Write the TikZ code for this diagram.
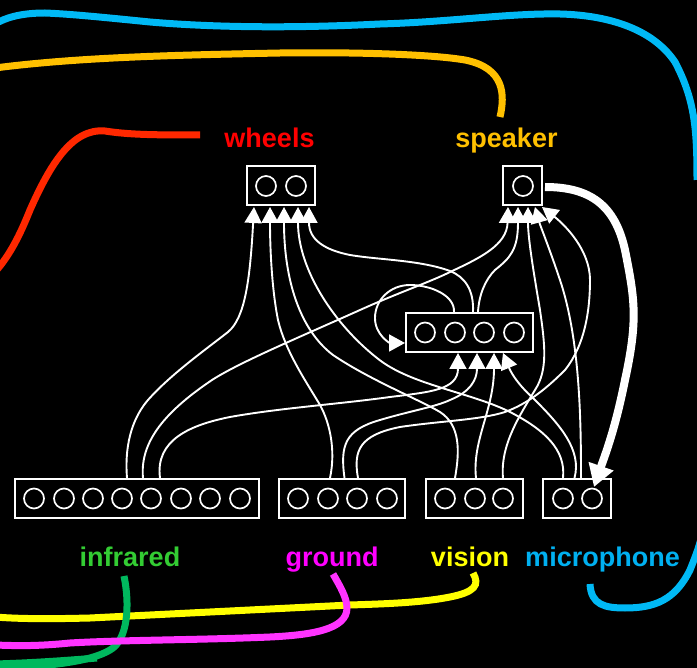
\documentclass[tikz,border=0pt]{standalone}
\usepackage{fontspec}
\setmainfont{Liberation Sans}
\usetikzlibrary{arrows.meta}
\definecolor{cblue}{RGB}{0,185,245}
\definecolor{corange}{RGB}{255,192,0}
\definecolor{cred}{RGB}{255,40,0}
\definecolor{cyellow}{RGB}{255,255,0}
\definecolor{cmagenta}{RGB}{255,51,255}
\definecolor{cgreen}{RGB}{0,184,94}
\definecolor{lred}{RGB}{255,0,0}
\definecolor{lgreen}{RGB}{51,204,51}
\definecolor{lmag}{RGB}{255,0,255}
\definecolor{lblue}{RGB}{0,176,240}
\tikzset{
  x=1pt,y=-1pt,
  box/.style={draw=white,line width=2pt,fill=black,inner sep=0pt,minimum height=39pt},
  pin/.style={circle,draw=white,line width=1.7pt,inner sep=0pt,minimum size=20pt},
  wire/.style={draw=white,line width=1.9pt},
  tipped/.style={wire,-{Triangle[length=16pt,width=17pt]}},
  sense/.style={line width=7pt,line cap=butt},
  lab/.style={anchor=base,inner sep=0pt,font=\bfseries\fontsize{27}{27}\selectfont},
}
\begin{document}
\begin{tikzpicture}
\fill[black] (0,0) rectangle (697,668);
\useasboundingbox (0,0) rectangle (697,668);
\begin{scope}
\clip (0,0) rectangle (697,668);
% long coloured leads
\draw[sense,cblue] (590,584) .. controls (591,605) and (605,608) .. (625,608) .. controls (655,608) and (675,600) .. (690,570) .. controls (696,555) and (700,545) .. (703,530);
\draw[sense,cblue] (697,180) .. controls (697,130) and (695,100) .. (675,62) .. controls (650,25) and (600,15) .. (560,14) .. controls (510,13) and (450,22) .. (380,24) .. controls (300,28) and (220,28) .. (150,22) .. controls (100,17) and (70,14) .. (45,13) .. controls (20,13) and (5,18) .. (-5,24);
\draw[sense,corange] (500,117) .. controls (505,95) and (505,68) .. (465,60) .. controls (430,54) and (350,52) .. (280,53) .. controls (180,55) and (80,57) .. (-5,68);
\draw[sense,cred] (200,135) .. controls (160,135) and (130,135) .. (105,131) .. controls (72,128) and (50,165) .. (30,210) .. controls (20,235) and (10,255) .. (-5,272);
\draw[sense,cyellow] (473,573) .. controls (480,585) and (475,592) .. (450,597) .. controls (420,603) and (380,604) .. (350,605) .. controls (250,610) and (150,615) .. (90,618) .. controls (50,619) and (20,619) .. (-5,617);
\draw[sense,cgreen] (-5,664) .. controls (30,663) and (60,661) .. (97,658);
\draw[sense,cgreen] (124,576) .. controls (130,605) and (128,640) .. (110,650) .. controls (90,662) and (50,666) .. (-5,669);
\draw[sense,cmagenta] (333,574) .. controls (340,586) and (347,598) .. (347,608) .. controls (347,630) and (310,635) .. (270,637) .. controls (200,640) and (120,640) .. (70,643) .. controls (40,646) and (20,646) .. (-5,645);
\end{scope}
% boxes
\node[box,minimum width=68pt] (wheels) at (281,186) {};
\node[box,minimum width=39pt] (speaker) at (522.5,186) {};
\node[box,minimum width=127pt] (core) at (469.5,332.5) {};
\node[box,minimum width=244pt] (infrared) at (137,498.5) {};
\node[box,minimum width=126pt] (ground) at (342,498.5) {};
\node[box,minimum width=97pt] (vision) at (474.5,498.5) {};
\node[box,minimum width=68pt] (microphone) at (577,498.5) {};
% pins
\foreach \n/\x in {wa/266,wb/296}{\node[pin] (\n) at (\x,186) {};}
\node[pin] (sa) at (523,186) {};
\foreach \n/\x in {ca/425,cb/455,cc/484,cd/514}{\node[pin] (\n) at (\x,332.5) {};}
\foreach \n/\x in {ia/34,ib/64,ic/93,id/122,ie/151,if/181,ig/210,ih/240,ga/298,gb/328,gc/357,gd/387,va/445,vb/475,vc/503,ma/563,mb/592}{\node[pin] (\n) at (\x,498.5) {};}
% wire ends
\foreach \n/\x in {iu/127,iv/143,iw/160,gu/330,gv/344.5,gw/358,vu/455,vv/476,vw/503,mu/563,mv/574.5,mw/581}{\coordinate (\n) at (\x,478);}
\foreach \n/\x in {wia/254,wib/270,wic/284,wid/298,wie/309,sia/508,sib/518,sic/528,sid/535}{\coordinate (\n) at (\x,207);}
\foreach \n/\x in {cia/458,cib/477,cic/494}{\coordinate (\n) at (\x,353);}
\coordinate (cid) at (503,353);
\coordinate (cie) at (405,343);
\coordinate (sie) at (542,207);
\coordinate (oa) at (454,312);
\coordinate (ob) at (473,312);
\coordinate (oc) at (478,312);
\coordinate (sout) at (545,187);
\coordinate (mbin) at (594,487);
% wires
\draw[tipped] (iu) .. controls (124,440) and (135,415) .. (148,400) .. controls (170,375) and (205,350) .. (228,332) .. controls (245,318) and (250,280) .. (wia);
\draw[tipped] (gu) .. controls (336,450) and (330,420) .. (317,400) .. controls (305,380) and (285,350) .. (278,320) .. controls (272,290) and (270,250) .. (wib);
\draw[tipped] (vu) .. controls (460,450) and (460,425) .. (440,412) .. controls (420,400) and (370,380) .. (333,355) .. controls (300,330) and (284,280) .. (wic);
\draw[tipped] (mu) .. controls (566,450) and (545,430) .. (510,412) .. controls (470,392) and (410,385) .. (377,358) .. controls (335,325) and (298,270) .. (wid);
\draw[tipped] (ob) .. controls (474,290) and (465,277) .. (450,271) .. controls (420,260) and (380,260) .. (350,255) .. controls (325,250) and (309,240) .. (wie);
\draw[tipped] (iv) .. controls (140,445) and (160,415) .. (212,380) .. controls (240,362) and (300,337) .. (360,310) .. controls (400,292) and (430,282) .. (450,272) .. controls (480,258) and (507,245) .. (sia);
\draw[tipped] (oc) .. controls (479,295) and (485,280) .. (495,270) .. controls (510,258) and (518,250) .. (sib);
\draw[tipped] (vw) .. controls (500,445) and (520,415) .. (535,390) .. controls (548,370) and (545,345) .. (540,310) .. controls (535,280) and (528,240) .. (sic);
\draw[tipped] (mw) .. controls (581,420) and (580,340) .. (560,280) .. controls (550,250) and (540,225) .. (sid);
\draw[tipped] (gw) .. controls (353,450) and (360,435) .. (400,427) .. controls (440,421) and (480,420) .. (505,412) .. controls (530,403) and (550,385) .. (565,370) .. controls (585,345) and (590,310) .. (590,280) .. controls (590,250) and (565,225) .. (sie);
\draw[tipped] (iw) .. controls (155,440) and (190,425) .. (230,417) .. controls (280,408) and (340,404) .. (390,397) .. controls (430,392) and (458,390) .. (cia);
\draw[tipped] (gv) .. controls (340,445) and (345,430) .. (380,420) .. controls (410,411) and (435,407) .. (450,400) .. controls (470,392) and (477,380) .. (cib);
\draw[tipped] (vv) .. controls (472,440) and (494,410) .. (cic);
\draw[tipped] (mv) .. controls (582,450) and (560,425) .. (535,400) .. controls (515,382) and (510,370) .. (cid);
\draw[tipped] (oa) .. controls (455,295) and (430,285) .. (410,285) .. controls (390,285) and (375,300) .. (375,318) .. controls (375,335) and (390,343) .. (cie);
% loud-speaker drive
\draw[draw=white,line width=8pt,-{Triangle[length=22pt,width=25pt]}] (sout) .. controls (590,187) and (615,205) .. (625,250) .. controls (635,300) and (638,320) .. (625,380) .. controls (615,430) and (605,455) .. (mbin);
% labels
\node[lab,text=lred] (lw) at (269.5,148) {wheels};
\node[lab,text=corange] (ls) at (506.5,148) {speaker};
\node[lab,text=lgreen] (li) at (130,566) {infrared};
\node[lab,text=lmag] (lg) at (332,566) {ground};
\node[lab,text=cyellow] (lv) at (470,566) {vision};
\node[lab,text=lblue] (lm) at (602.5,566) {microphone};
\end{tikzpicture}
\end{document}
